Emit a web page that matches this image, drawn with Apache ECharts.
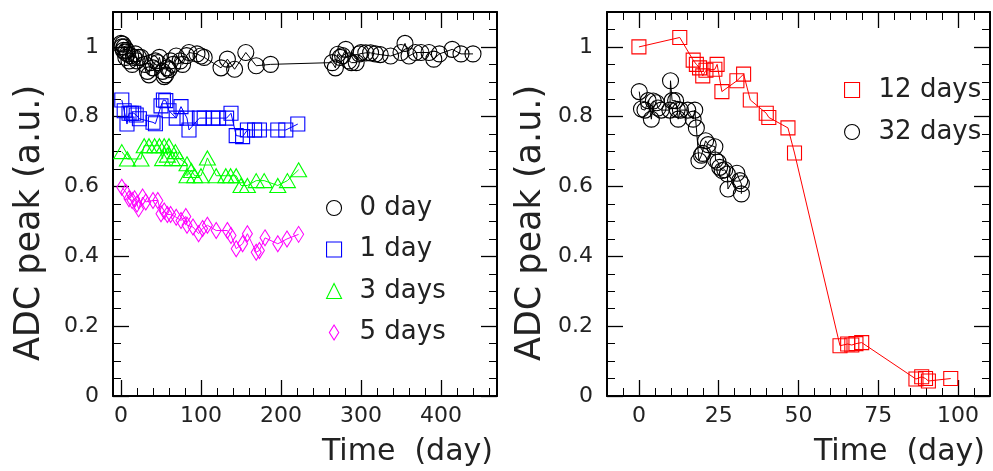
<!DOCTYPE html>
<html>
<head>
<meta charset="utf-8">
<script src="https://cdn.jsdelivr.net/npm/echarts@6/dist/echarts.min.js"></script>
<style>html,body{margin:0;padding:0;background:#fff}#c{width:993px;height:471px}</style>
</head>
<body>
<div id="c"></div>
<script>
// ---- data (day, ADC peak) ----
const day0 = [[0,1.01],[1,1.0],[2,1.008],[3,0.99],[4,1.0],[5,0.985],[6,0.97],[7,0.99],[8,0.98],[10,0.96],[12,0.975],[14,0.95],[16,0.97],[18,0.98],[20,0.96],[22,0.97],[25,0.97],[30,0.95],[33,0.93],[35,0.92],[37,0.955],[40,0.94],[43,0.96],[46,0.955],[48,0.97],[52,0.93],[54,0.915],[56,0.92],[58,0.94],[60,0.935],[62,0.96],[65,0.95],[69,0.974],[74,0.96],[77,0.95],[82,0.975],[85,0.984],[95,0.98],[100,0.974],[104,0.97],[125,0.94],[133,0.965],[142,0.936],[156,0.984],[169,0.946],[187,0.95],[264,0.955],[268,0.94],[271,0.979],[274,0.97],[277,0.975],[281,0.993],[285,0.96],[288,0.955],[294,0.955],[298,0.98],[300,0.984],[306,0.983],[312,0.983],[318,0.98],[324,0.978],[337,0.974],[350,0.984],[355,1.01],[360,0.974],[368,0.984],[375,0.984],[385,0.984],[391,0.965],[398,0.98],[414,0.993],[425,0.98],[440,0.98]];
const day1 = [[1,0.848],[4,0.817],[7.5,0.779],[10,0.81],[13,0.81],[16,0.81],[19,0.805],[23,0.794],[40,0.784],[43,0.78],[50,0.831],[53,0.848],[56,0.846],[60,0.817],[69,0.796],[75,0.829],[82.5,0.796],[85,0.762],[98,0.796],[104,0.796],[115,0.796],[122,0.796],[132,0.796],[137.5,0.81],[144,0.746],[152,0.743],[158,0.762],[167,0.762],[173,0.762],[196,0.762],[206,0.762],[221,0.779]];
const day3 = [[1,0.70],[8,0.679],[25,0.679],[29,0.717],[35,0.717],[42,0.717],[48,0.717],[52,0.68],[54,0.717],[58,0.69],[60,0.717],[64,0.68],[68,0.70],[73,0.68],[82.5,0.665],[82.5,0.631],[88,0.646],[92,0.631],[100,0.631],[108,0.682],[119,0.631],[131,0.631],[137,0.631],[144,0.631],[150,0.603],[158,0.603],[169,0.617],[179,0.617],[196,0.603],[208,0.617],[222,0.648]];
const day5 = [[1,0.598],[6,0.584],[10,0.565],[14,0.56],[17,0.565],[20,0.55],[22,0.536],[27,0.57],[31,0.556],[40,0.56],[46,0.56],[50,0.522],[54,0.53],[58,0.52],[62,0.52],[69,0.512],[75,0.503],[81,0.514],[82.5,0.489],[90,0.484],[97,0.465],[102,0.48],[108,0.489],[119,0.474],[133,0.474],[137.5,0.46],[144,0.422],[152,0.436],[158,0.465],[169,0.412],[173,0.417],[180,0.453],[196,0.436],[207.5,0.45],[222,0.463]];
const day12 = [[0,1.0],[12.8,1.027],[17,0.962],[18,0.95],[19,0.94],[20,0.917],[21,0.933],[23.8,0.936],[24.5,0.95],[26,0.872],[30.7,0.903],[32.8,0.922],[34.9,0.848],[39.9,0.81],[40.7,0.798],[46.7,0.768],[48.75,0.696],[63,0.144],[65.4,0.149],[66.7,0.146],[68,0.15],[69.8,0.153],[86.8,0.0486],[88.6,0.055],[89.8,0.05],[90.7,0.043],[97.7,0.05]];
const day32 = [[0.1,0.872],[0.8,0.822],[1.9,0.819],[2.9,0.846],[3.9,0.793],[4.5,0.845],[5.5,0.84],[6,0.825],[7,0.819],[9.7,0.819],[9.9,0.903],[10.4,0.846],[11.5,0.846],[12,0.821],[12.3,0.793],[13,0.819],[15.3,0.819],[17,0.793],[17.5,0.819],[18,0.768],[18.8,0.674],[19.6,0.69],[20,0.695],[20.9,0.731],[21.7,0.72],[23.8,0.714],[24,0.676],[24.8,0.67],[25.3,0.655],[26.1,0.646],[26.9,0.648],[27.7,0.636],[27.9,0.593],[30.7,0.638],[31.6,0.617],[32.1,0.608],[32.1,0.579]];

// ---- tick labels ----
const leftXTicks = [0,100,200,300,400];
const leftXMinor = [20,40,60,80,120,140,160,180,220,240,260,280,320,340,360,380,420,440,460];
const rightXTicks = [0,25,50,75,100];
const rightXMinor = [-5,5,10,15,20,30,35,40,45,55,60,65,70,80,85,90,95,105];
const yTicks = [0,0.2,0.4,0.6,0.8,1];
const yMinor = [0.05,0.1,0.15,0.25,0.3,0.35,0.45,0.5,0.55,0.65,0.7,0.75,0.85,0.9,0.95,1.05];

const leftNames = ['0 day','1 day','3 days','5 days'];
const rightNames = ['12 days','32 days'];

const FONT = 'DejaVu Sans';
const TXT = '#222';

function xAxes(grid, min, max, major, minor) {
  const base = {type:'value', gridIndex:grid, min:min, max:max, splitLine:{show:false}};
  return [
    Object.assign({}, base, {position:'bottom',
      axisLine:{show:true, onZero:false, lineStyle:{color:'#000', width:2}},
      axisTick:{show:true, inside:true, length:16, customValues:major, lineStyle:{color:'#000', width:1.3}},
      axisLabel:{show:true, customValues:major, margin:9, fontFamily:FONT, fontSize:22, color:TXT}}),
    Object.assign({}, base, {position:'bottom',
      axisLine:{show:false, onZero:false},
      axisTick:{show:true, inside:true, length:8, customValues:minor, lineStyle:{color:'#000', width:1}},
      axisLabel:{show:false}}),
    Object.assign({}, base, {position:'top',
      axisLine:{show:true, onZero:false, lineStyle:{color:'#000', width:2}},
      axisTick:{show:true, inside:true, length:16, customValues:major, lineStyle:{color:'#000', width:1.3}},
      axisLabel:{show:false}}),
    Object.assign({}, base, {position:'top',
      axisLine:{show:false, onZero:false},
      axisTick:{show:true, inside:true, length:8, customValues:minor, lineStyle:{color:'#000', width:1}},
      axisLabel:{show:false}})
  ];
}
function yAxes(grid) {
  const base = {type:'value', gridIndex:grid, min:0, max:1.1, splitLine:{show:false}};
  return [
    Object.assign({}, base, {position:'left',
      axisLine:{show:true, onZero:false, lineStyle:{color:'#000', width:2}},
      axisTick:{show:true, inside:true, length:16, customValues:yTicks, lineStyle:{color:'#000', width:1.3}},
      axisLabel:{show:true, customValues:yTicks, margin:14, fontFamily:FONT, fontSize:22, color:TXT}}),
    Object.assign({}, base, {position:'left',
      axisLine:{show:false, onZero:false},
      axisTick:{show:true, inside:true, length:8, customValues:yMinor, lineStyle:{color:'#000', width:1}},
      axisLabel:{show:false}}),
    Object.assign({}, base, {position:'right',
      axisLine:{show:true, onZero:false, lineStyle:{color:'#000', width:2}},
      axisTick:{show:true, inside:true, length:16, customValues:yTicks, lineStyle:{color:'#000', width:1.3}},
      axisLabel:{show:false}}),
    Object.assign({}, base, {position:'right',
      axisLine:{show:false, onZero:false},
      axisTick:{show:true, inside:true, length:8, customValues:yMinor, lineStyle:{color:'#000', width:1}},
      axisLabel:{show:false}})
  ];
}

const diamondPath = 'path://M5,0L10,8L5,16L0,8Z';

function ser(name, data, grid, color, symbol, size) {
  const ai = grid === 0 ? 0 : 4;
  return {
    type:'line', name:name, data:data, xAxisIndex:ai, yAxisIndex:ai,
    symbol:symbol, symbolSize:size, showAllSymbol:true,
    lineStyle:{color:color, width:1},
    itemStyle:{color:'rgba(0,0,0,0)', borderColor:color, borderWidth:1.1},
    emphasis:{disabled:true}, animation:false, z:3
  };
}

const legendItem = (name, icon, color) => ({name:name, icon:icon,
  itemStyle:{color:'rgba(0,0,0,0)', borderColor:color, borderWidth:1.1}});

const option = {
  backgroundColor:'#fff',
  animation:false,
  grid:[
    {left:113, top:12, width:384, height:384},
    {left:607, top:12, width:383, height:384}
  ],
  xAxis:[].concat(xAxes(0,-10,470,leftXTicks,leftXMinor), xAxes(1,-10,110,rightXTicks,rightXMinor)),
  yAxis:[].concat(yAxes(0), yAxes(1)),
  legend:[
    {orient:'vertical', left:321, top:190, itemWidth:15, itemHeight:15, itemGap:15.5,
     selectedMode:false,
     textStyle:{fontFamily:FONT, fontSize:26, color:TXT, padding:[0,0,0,13]},
     data:[legendItem(leftNames[0],'circle','#000'), legendItem(leftNames[1],'rect','#0000ff'),
           legendItem(leftNames[2],'triangle','#00ff00'), legendItem(leftNames[3],diamondPath,'#ff00ff')]},
    {orient:'vertical', left:839, top:72, itemWidth:15, itemHeight:15, itemGap:16,
     selectedMode:false,
     textStyle:{fontFamily:FONT, fontSize:26, color:TXT, padding:[0,0,0,14]},
     data:[legendItem(rightNames[0],'rect','#ff0000'), legendItem(rightNames[1],'circle','#000')]}
  ],
  series:[
    ser(leftNames[0], day0, 0, '#000000', 'circle', 16),
    ser(leftNames[1], day1, 0, '#0000ff', 'rect', 14),
    ser(leftNames[2], day3, 0, '#00ff00', 'triangle', [16,14]),
    ser(leftNames[3], day5, 0, '#ff00ff', diamondPath, [10,16]),
    ser(rightNames[0], day12, 1, '#ff0000', 'rect', 14),
    ser(rightNames[1], day32, 1, '#000000', 'circle', 16)
  ],
  graphic:[
    {type:'text', x:30, y:223, rotation:Math.PI/2, style:{text:'ADC peak (a.u.)', font:'35px "DejaVu Sans"', fill:TXT, align:'center', verticalAlign:'middle'}},
    {type:'text', x:531, y:223, rotation:Math.PI/2, style:{text:'ADC peak (a.u.)', font:'35px "DejaVu Sans"', fill:TXT, align:'center', verticalAlign:'middle'}},
    {type:'text', x:493, y:452, style:{text:'Time  (day)', font:'30px "DejaVu Sans"', fill:TXT, align:'right', verticalAlign:'middle'}},
    {type:'text', x:985, y:452, style:{text:'Time  (day)', font:'30px "DejaVu Sans"', fill:TXT, align:'right', verticalAlign:'middle'}}
  ]
};

const chart = echarts.init(document.getElementById('c'), null, {renderer:'canvas'});
chart.setOption(option);
</script>
</body>
</html>
